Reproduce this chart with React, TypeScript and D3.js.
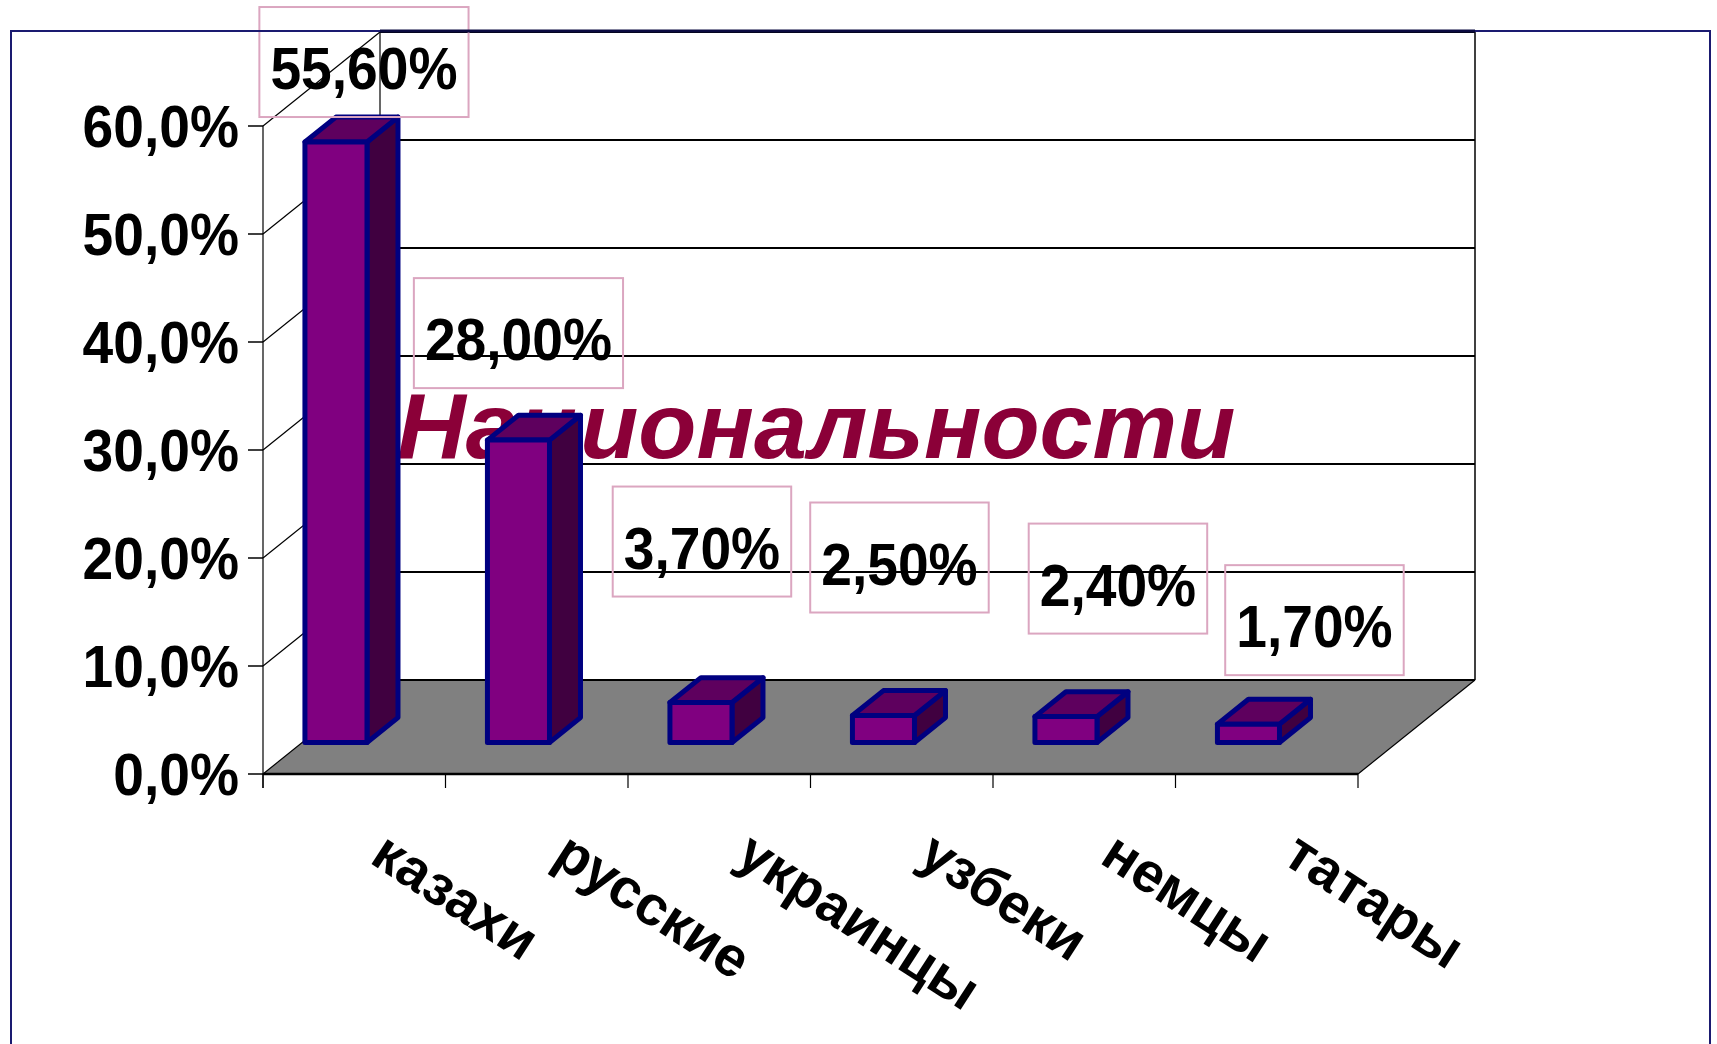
import React from "react";
import * as d3 from "d3";

// ---------- data ----------
const categories = ["казахи", "русские", "украинцы", "узбеки", "немцы", "татары"];
const shares = [0.556, 0.28, 0.037, 0.025, 0.024, 0.017];
const yTickValues = [0, 0.1, 0.2, 0.3, 0.4, 0.5, 0.6];
const chartTitle = "Национальности";

// ---------- layout ----------
const W = 1717;
const H = 1044;
const FONT = "'Liberation Sans', Arial, Helvetica, sans-serif";
const plot = { left: 263, right: 1358, base: 774, top: 126 };
const DEPTH = { dx: 117, dy: -94 };
const BAR = { d0: 0.335, d1: 0.6, x0: 0.015, x1: 0.355 };
// manual data-label placement (pixels relative to the bar's top-front centre)
const labelNudge: [number, number][] = [
  [28, -80],
  [0, -107],
  [1, -161],
  [16, -158],
  [52, -138],
  [66, -104],
];

const fmtAxis = (v: number) => d3.format(".1%")(v).replace(".", ",");
const fmtLabel = (v: number) => d3.format(".2%")(v).replace(".", ",");
const emWidth = (s: string) =>
  [...s].reduce((a, ch) => a + (ch === "," ? 0.278 : ch === "%" ? 0.889 : 0.556), 0);

export default function App() {
  const x = d3
    .scaleBand<string>()
    .domain(categories)
    .range([plot.left, plot.right])
    .paddingInner(0)
    .paddingOuter(0);
  const bw = x.bandwidth();
  const y = d3.scaleLinear().domain([0, 0.6]).range([plot.base, plot.top]);
  const P = (wx: number, v: number, d: number): [number, number] => [
    wx + d * DEPTH.dx,
    y(v) + d * DEPTH.dy,
  ];
  const pts = (arr: [number, number][]) => arr.map((p) => p.join(",")).join(" ");

  const xR = plot.right;
  const xL = plot.left;
  const vMax = 0.6;

  const leftWall = pts([P(xL, 0, 0), P(xL, vMax, 0), P(xL, vMax, 1), P(xL, 0, 1)]);
  const backWall = pts([P(xL, 0, 1), P(xL, vMax, 1), P(xR, vMax, 1), P(xR, 0, 1)]);
  const floor = pts([P(xL, 0, 0), P(xR, 0, 0), P(xR, 0, 1), P(xL, 0, 1)]);

  const edge = "#000080";

  return (
    <svg
      width={W}
      height={H}
      style={{ position: "absolute", left: 0, top: 0, display: "block", background: "#fff" }}
      fontFamily={FONT}
    >
      <rect x={0} y={0} width={W} height={H} fill="#fff" />
      {/* walls */}
      <polygon points={leftWall} fill="#fff" />
      <polygon points={backWall} fill="#fff" />
      <polygon points={floor} fill="#808080" />

      {/* side-wall diagonals and back-wall gridlines */}
      {yTickValues.map((v) => {
        const a = P(xL, v, 0);
        const b = P(xL, v, 1);
        const c = P(xR, v, 1);
        return (
          <g key={"g" + v}>
            <line x1={a[0]} y1={a[1]} x2={b[0]} y2={b[1]} stroke="#000" strokeWidth={1.2} />
            <line x1={b[0]} y1={b[1]} x2={c[0]} y2={c[1]} stroke="#000" strokeWidth={2.2} />
          </g>
        );
      })}
      {/* back wall edges */}
      {(() => {
        const a = P(xL, 0, 1);
        const b = P(xL, vMax, 1);
        const c = P(xR, vMax, 1);
        const d = P(xR, 0, 1);
        const e = P(xR, 0, 0);
        const f = P(xL, 0, 0);
        return (
          <g>
            <line x1={a[0]} y1={a[1]} x2={b[0]} y2={b[1]} stroke="#000" strokeWidth={1.2} />
            <line x1={c[0]} y1={c[1]} x2={d[0]} y2={d[1]} stroke="#000" strokeWidth={1.5} />
            <line x1={d[0]} y1={d[1]} x2={e[0]} y2={e[1]} stroke="#000" strokeWidth={1.2} />
            <line x1={f[0]} y1={f[1]} x2={e[0]} y2={e[1]} stroke="#000" strokeWidth={2.5} />
          </g>
        );
      })()}

      {/* value axis */}
      <line x1={xL} y1={y(vMax)} x2={xL} y2={plot.base + 14} stroke="#000" strokeWidth={1.2} />
      {yTickValues.map((v) => (
        <g key={"t" + v}>
          <line x1={xL - 15} y1={y(v)} x2={xL} y2={y(v)} stroke="#000" strokeWidth={1.5} />
          <text
            transform={`translate(${xL - 24},${y(v) + 21}) scale(0.92,1)`}
            textAnchor="end"
            fontSize={60}
            fontWeight="bold"
            fill="#000"
          >
            {fmtAxis(v)}
          </text>
        </g>
      ))}

      {/* category ticks */}
      {d3.range(categories.length + 1).map((i) => {
        const xx = xL + i * bw;
        return (
          <line key={"c" + i} x1={xx} y1={plot.base} x2={xx} y2={plot.base + 14} stroke="#000" strokeWidth={1.2} />
        );
      })}

      {/* title */}
      <text
        transform="translate(397,458) scale(1.035,1)"
        fontSize={92}
        fontWeight="bold"
        fontStyle="italic"
        fill="#8B0038"
      >
        {chartTitle}
      </text>

      {/* bars */}
      {categories.map((c, i) => {
        const v = shares[i];
        const b = x(c) as number;
        const x0 = b + BAR.x0 * bw;
        const x1 = b + BAR.x1 * bw;
        const front = pts([P(x0, 0, BAR.d0), P(x1, 0, BAR.d0), P(x1, v, BAR.d0), P(x0, v, BAR.d0)]);
        const side = pts([P(x1, 0, BAR.d0), P(x1, 0, BAR.d1), P(x1, v, BAR.d1), P(x1, v, BAR.d0)]);
        const top = pts([P(x0, v, BAR.d0), P(x1, v, BAR.d0), P(x1, v, BAR.d1), P(x0, v, BAR.d1)]);
        return (
          <g key={"b" + c} stroke={edge} strokeWidth={5} strokeLinejoin="round">
            <polygon points={side} fill="#400040" />
            <polygon points={top} fill="#5e005e" />
            <polygon points={front} fill="#800080" />
          </g>
        );
      })}

      {/* data labels */}
      {categories.map((c, i) => {
        const v = shares[i];
        const b = x(c) as number;
        const [tx, ty] = P(b + ((BAR.x0 + BAR.x1) / 2) * bw, v, BAR.d0);
        const cx = tx + labelNudge[i][0];
        const cy = ty + labelNudge[i][1];
        const txt = fmtLabel(v);
        const boxW = emWidth(txt) * 60 * 0.92 + 22;
        return (
          <g key={"l" + c}>
            <rect x={cx - boxW / 2} y={cy - 55} width={boxW} height={110} fill="none" stroke="#dba6c0" strokeWidth={2} />
            <text
              transform={`translate(${cx},${cy + 27}) scale(0.92,1)`}
              textAnchor="middle"
              fontSize={60}
              fontWeight="bold"
              fill="#000"
            >
              {txt}
            </text>
          </g>
        );
      })}

      {/* category labels */}
      {categories.map((c) => {
        const cx = (x(c) as number) + bw / 2 + 14;
        return (
          <text
            key={"cl" + c}
            transform={`translate(${cx},862) rotate(33)`}
            fontSize={56}
            fontWeight="bold"
            fill="#000"
          >
            {c}
          </text>
        );
      })}

      {/* outer frame */}
      <rect x={11} y={31} width={1699} height={1100} fill="none" stroke="#1a1a70" strokeWidth={2} />
      <line x1={P(xL, vMax, 1)[0]} y1={31} x2={P(xR, vMax, 1)[0]} y2={31} stroke="#0a0a40" strokeWidth={3} />
    </svg>
  );
}
